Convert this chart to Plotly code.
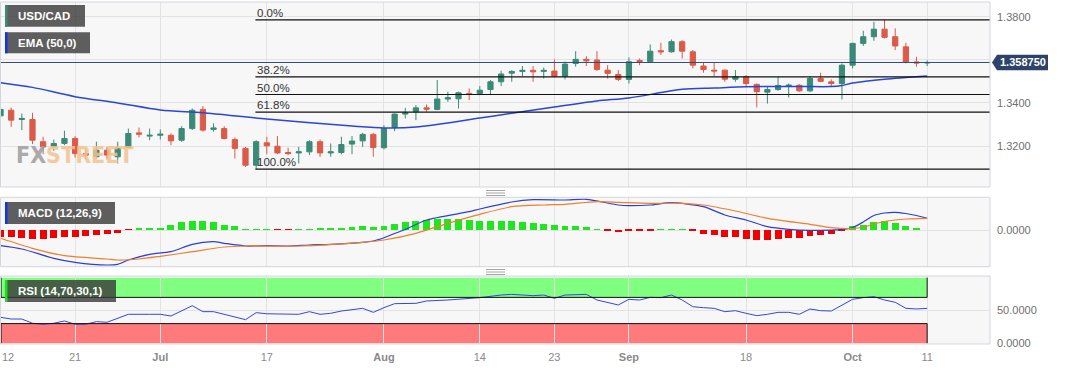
import pandas as pd
import plotly.graph_objects as go
from plotly.subplots import make_subplots

# ---------------- data ----------------
dates = [d.strftime("%Y-%m-%d") for d in pd.bdate_range("2023-06-12", "2023-10-11")]

open_ = [1.3340, 1.3366, 1.3323, 1.3323, 1.3220, 1.3199, 1.3212, 1.3235, 1.3165, 1.3150,
         1.3181, 1.3150, 1.3193, 1.3261, 1.3246, 1.3250, 1.3250, 1.3227, 1.3281, 1.3370,
         1.3277, 1.3281, 1.3230, 1.3189, 1.3111, 1.3215, 1.3199, 1.3170, 1.3168, 1.3173,
         1.3220, 1.3168, 1.3170, 1.3209, 1.3224, 1.3254, 1.3192, 1.3286, 1.3348, 1.3359,
         1.3377, 1.3370, 1.3418, 1.3419, 1.3444, 1.3444, 1.3462, 1.3498, 1.3538, 1.3546,
         1.3551, 1.3546, 1.3548, 1.3524, 1.3583, 1.3602, 1.3599, 1.3552, 1.3532, 1.3509,
         1.3597, 1.3591, 1.3642, 1.3637, 1.3684, 1.3637, 1.3571, 1.3552, 1.3552, 1.3510,
         1.3521, 1.3486, 1.3450, 1.3462, 1.3478, 1.3482, 1.3456, 1.3513, 1.3498, 1.3490,
         1.3575, 1.3676, 1.3707, 1.3742, 1.3707, 1.3660, 1.3590, 1.3585]
high = [1.3379, 1.3379, 1.3351, 1.3354, 1.3243, 1.3230, 1.3271, 1.3246, 1.3184, 1.3220,
        1.3196, 1.3220, 1.3281, 1.3286, 1.3281, 1.3277, 1.3258, 1.3292, 1.3374, 1.3385,
        1.3305, 1.3292, 1.3240, 1.3196, 1.3227, 1.3243, 1.3246, 1.3192, 1.3196, 1.3227,
        1.3230, 1.3212, 1.3243, 1.3246, 1.3261, 1.3261, 1.3297, 1.3351, 1.3377, 1.3390,
        1.3393, 1.3506, 1.3452, 1.3452, 1.3467, 1.3478, 1.3506, 1.3549, 1.3552, 1.3571,
        1.3571, 1.3564, 1.3602, 1.3591, 1.3640, 1.3617, 1.3640, 1.3575, 1.3552, 1.3611,
        1.3606, 1.3671, 1.3679, 1.3694, 1.3691, 1.3645, 1.3586, 1.3586, 1.3555, 1.3552,
        1.3529, 1.3490, 1.3478, 1.3521, 1.3490, 1.3487, 1.3524, 1.3540, 1.3509, 1.3583,
        1.3679, 1.3735, 1.3776, 1.3785, 1.3746, 1.3679, 1.3614, 1.3597]
low = [1.3328, 1.3289, 1.3274, 1.3209, 1.3162, 1.3178, 1.3204, 1.3147, 1.3138, 1.3142,
       1.3138, 1.3119, 1.3189, 1.3240, 1.3227, 1.3230, 1.3204, 1.3220, 1.3274, 1.3266,
       1.3266, 1.3230, 1.3142, 1.3103, 1.3093, 1.3162, 1.3162, 1.3158, 1.3119, 1.3158,
       1.3150, 1.3150, 1.3162, 1.3162, 1.3196, 1.3150, 1.3184, 1.3269, 1.3328, 1.3320,
       1.3359, 1.3366, 1.3405, 1.3374, 1.3413, 1.3436, 1.3441, 1.3478, 1.3498, 1.3524,
       1.3498, 1.3513, 1.3521, 1.3509, 1.3568, 1.3571, 1.3549, 1.3513, 1.3501, 1.3490,
       1.3575, 1.3586, 1.3622, 1.3633, 1.3606, 1.3560, 1.3540, 1.3524, 1.3498, 1.3498,
       1.3478, 1.3379, 1.3397, 1.3456, 1.3425, 1.3452, 1.3450, 1.3496, 1.3478, 1.3416,
       1.3560, 1.3664, 1.3688, 1.3699, 1.3645, 1.3583, 1.3568, 1.3571]
close = [1.3370, 1.3320, 1.3328, 1.3227, 1.3196, 1.3212, 1.3235, 1.3165, 1.3158, 1.3181,
         1.3158, 1.3189, 1.3258, 1.3255, 1.3250, 1.3255, 1.3224, 1.3281, 1.3366, 1.3274,
         1.3284, 1.3235, 1.3189, 1.3111, 1.3220, 1.3201, 1.3168, 1.3165, 1.3173, 1.3220,
         1.3168, 1.3173, 1.3207, 1.3223, 1.3254, 1.3193, 1.3281, 1.3348, 1.3354, 1.3377,
         1.3371, 1.3418, 1.3424, 1.3447, 1.3439, 1.3459, 1.3498, 1.3534, 1.3546, 1.3551,
         1.3544, 1.3551, 1.3524, 1.3580, 1.3602, 1.3595, 1.3555, 1.3537, 1.3509, 1.3591,
         1.3591, 1.3640, 1.3637, 1.3684, 1.3640, 1.3575, 1.3555, 1.3548, 1.3510, 1.3521,
         1.3490, 1.3452, 1.3462, 1.3481, 1.3482, 1.3456, 1.3513, 1.3500, 1.3490, 1.3575,
         1.3676, 1.3707, 1.3742, 1.3704, 1.3664, 1.3588, 1.3585, 1.35875]

ema_idx = [0, 3, 7, 11, 15, 19, 25, 33, 36, 39, 45, 48, 52, 56, 59, 64, 67, 70, 75, 78, 79, 80, 83, 87]
ema_val = [1.3494, 1.3472, 1.3429, 1.3400, 1.3367, 1.3354, 1.3325, 1.3293, 1.3284, 1.3288,
           1.3330, 1.3352, 1.3381, 1.3409, 1.3423, 1.3463, 1.3469, 1.3475, 1.3476, 1.3476,
           1.3481, 1.3492, 1.3510, 1.3525]

macd_idx = [0, 2, 5, 7, 10, 11, 12, 14, 16, 18, 20, 21, 23, 25, 27, 29, 31, 34, 35, 36, 37, 38,
            40, 44, 45, 48, 50, 53, 55, 58, 59, 61, 63, 66, 68, 70, 72, 74, 76, 78, 79, 80, 81,
            82, 83, 84, 85, 86, 87]
macd_val = [-0.00157, -0.00190, -0.00283, -0.00323, -0.00350, -0.00343, -0.00300, -0.00243,
            -0.00217, -0.00143, -0.00117, -0.00133, -0.00160, -0.00157, -0.00160, -0.00150,
            -0.00143, -0.00123, -0.00110, -0.00077, -0.00035, 0.00005, 0.00100, 0.00183,
            0.00210, 0.00280, 0.00303, 0.00300, 0.00307, 0.00250, 0.00243, 0.00250, 0.00273,
            0.00233, 0.00150, 0.00100, 0.00033, 0.00007, -0.00003, 0.00000, 0.00003, 0.00025,
            0.00080, 0.00145, 0.00170, 0.00177, 0.00165, 0.00145, 0.00117]

signal_idx = [0, 3, 6, 10, 11, 13, 15, 18, 21, 23, 28, 34, 36, 39, 42, 45, 48, 51, 53, 56, 58,
              61, 64, 66, 69, 72, 76, 78, 80, 81, 82, 83, 84, 85, 87]
signal_val = [-0.00083, -0.00183, -0.00257, -0.00290, -0.00300, -0.00290, -0.00263, -0.00217,
              -0.00170, -0.00160, -0.00160, -0.00123, -0.00100, -0.00033, 0.00067, 0.00157,
              0.00233, 0.00250, 0.00257, 0.00283, 0.00277, 0.00267, 0.00267, 0.00250, 0.00190,
              0.00117, 0.00057, 0.00023, 0.00015, 0.00030, 0.00060, 0.00085, 0.00100, 0.00110,
              0.00117]

hist_val = [-0.00074, -0.00074, -0.00080, -0.00090, -0.00090, -0.00083, -0.00077, -0.00074, -0.00064, -0.00053,
            -0.00043, -0.00030, -0.00003, 0.00008, 0.00012, 0.00020, 0.00045, 0.00076, 0.00083, 0.00083,
            0.00074, 0.00050, 0.00033, 0.00003, 0.00005, 0.00005, -0.00002, -0.00002, 0.00001, 0.00006,
            0.00008, 0.00012, 0.00016, 0.00026, 0.00033, 0.00029, 0.00040, 0.00058, 0.00073, 0.00087,
            0.00097, 0.00106, 0.00106, 0.00106, 0.00100, 0.00090, 0.00090, 0.00090, 0.00083, 0.00074,
            0.00067, 0.00057, 0.00043, 0.00033, 0.00033, 0.00027, 0.00007, -0.00007, -0.00027, -0.00017,
            -0.00015, -0.00005, 0.00001, 0.00003, 0.00003, -0.00007, -0.00040, -0.00057, -0.00073, -0.00077,
            -0.00090, -0.00100, -0.00100, -0.00094, -0.00083, -0.00083, -0.00060, -0.00050, -0.00043, -0.00017,
            0.00033, 0.00050, 0.00077, 0.00083, 0.00067, 0.00033, 0.00010, 0.00000]

rsi_idx = [0, 1, 2, 3, 4, 5, 6, 7, 8, 9, 10, 12, 14, 15, 16, 18, 19, 20, 23, 24, 25, 27, 28, 29,
           30, 31, 32, 34, 35, 36, 37, 39, 40, 42, 44, 45, 47, 48, 50, 51, 52, 53, 55, 56, 58,
           59, 60, 61, 62, 63, 64, 65, 66, 67, 68, 69, 70, 71, 72, 73, 74, 75, 76, 77, 78, 79,
           80, 81, 82, 83, 84, 85, 86, 87]
rsi_val = [39.6, 37, 37, 30.5, 29, 30.5, 34, 29, 29, 33, 32, 44.2, 44.2, 44.2, 41.6, 57.3, 48.2,
           48.2, 36, 46.7, 45, 44, 44.2, 48.2, 44.2, 45.7, 49.2, 53.3, 47.2, 54.3, 60.4, 60.9,
           64.5, 66, 68.6, 69.6, 73.6, 74.6, 72.6, 73.6, 68.6, 73.6, 74.6, 66, 58.4, 67, 66, 70,
           69.6, 73.6, 66, 55.8, 54.3, 53.3, 48.2, 49.7, 45.7, 42.1, 44.2, 47.2, 47.2, 44.2, 52.3,
           49.7, 49.2, 58.4, 67, 69.6, 71.1, 66, 62.5, 53.3, 52.3, 53.3]

tick_dates = ["2023-06-21", "2023-07-03", "2023-07-17", "2023-08-01", "2023-08-14",
              "2023-08-23", "2023-09-01", "2023-09-18", "2023-10-02", "2023-10-11"]
tick_text = ["21", "Jul", "17", "Aug", "14", "23", "Sep", "18", "Oct", "11"]
month_labels = {"Jul", "Aug", "Sep", "Oct"}

fib_levels = [0.0, 0.382, 0.5, 0.618, 1.0]
fib_labels = ["0.0%", "38.2%", "50.0%", "61.8%", "100.0%"]

price_ticks = [1.32, 1.34, 1.36, 1.38]
price_ticktext = ["1.3200", "1.3400", "", "1.3800"]

# ---------------- layout helpers ----------------
W, H = 1067, 370
ML, MR, MT, MB = 0, 77, 2, 26
PW, PH = W - ML - MR, H - MT - MB
def px(x):
    return (x - ML) / PW
def py(y):
    return (H - MB - y) / PH

XR = [-0.05, 92.9]
FONT = "Liberation Sans, Arial, sans-serif"
GRID = "#e3e3e3"
GREEN = "#3b8a77"
RED = "#da5b49"

fig = make_subplots(rows=3, cols=1, shared_xaxes=True, vertical_spacing=0.02)

fig.add_trace(go.Candlestick(
    x=dates, open=open_, high=high, low=low, close=close,
    increasing=dict(fillcolor=GREEN, line=dict(color=GREEN, width=1)),
    decreasing=dict(fillcolor=RED, line=dict(color=RED, width=1)),
    whiskerwidth=0, name="USD/CAD"), row=1, col=1)

fig.add_trace(go.Scatter(
    x=[dates[i] for i in ema_idx], y=ema_val, mode="lines",
    line=dict(color="#2b45d8", width=1.5, shape="spline", smoothing=0.8)), row=1, col=1)

fig.add_trace(go.Bar(
    x=dates, y=hist_val, width=0.65,
    marker=dict(color=["#1fe61f" if v >= 0 else "#f20000" for v in hist_val], line=dict(width=0))),
    row=2, col=1)
fig.add_trace(go.Scatter(
    x=[dates[i] for i in macd_idx], y=macd_val, mode="lines",
    line=dict(color="#2a3ed6", width=1.2, shape="spline", smoothing=0.7)), row=2, col=1)
fig.add_trace(go.Scatter(
    x=[dates[i] for i in signal_idx], y=signal_val, mode="lines",
    line=dict(color="#f07f2a", width=1.2, shape="spline", smoothing=0.7)), row=2, col=1)

fig.add_trace(go.Scatter(
    x=[dates[i] for i in rsi_idx], y=rsi_val, mode="lines",
    line=dict(color="#3447d8", width=1)), row=3, col=1)

common_x = dict(type="category", categoryorder="array", categoryarray=dates, range=XR,
                tickvals=tick_dates, showgrid=True, gridcolor=GRID, gridwidth=1,
                zeroline=False, showline=False, ticks="", rangeslider=dict(visible=False))
ticktext = ["<b>%s</b>" % t if t in month_labels else t for t in tick_text]
fig.update_layout(
    xaxis=dict(common_x, showticklabels=False),
    xaxis2=dict(common_x, showticklabels=False),
    xaxis3=dict(common_x, showticklabels=True, ticktext=ticktext,
                tickfont=dict(size=11, color="#8a8a8a", family=FONT), ticklabelstandoff=5),
)

common_y = dict(side="right", showline=False, zeroline=False, ticks="", gridcolor=GRID,
                tickfont=dict(size=11, color="#6f6f6f", family=FONT), ticklabelstandoff=6)
fig.update_layout(
    yaxis=dict(common_y, domain=[py(187), 1], range=[1.3010, 1.3868],
               tickvals=price_ticks, ticktext=price_ticktext),
    yaxis2=dict(common_y, domain=[py(266.7), py(197.3)], range=[-0.00367, 0.00327],
                tickvals=[0], ticktext=["0.0000"]),
    yaxis3=dict(common_y, domain=[0, py(276)], range=[-1.1, 102.6],
                tickvals=[0, 50], ticktext=["0.0000", "50.0000"]),
)

shapes = []
annotations = []

# RSI bands
last_i = len(dates) - 1
shapes.append(dict(type="rect", xref="x3", yref="y3", x0=XR[0], x1=last_i, y0=70, y1=100,
                   fillcolor="#80ff80", line=dict(width=0), layer="below"))
shapes.append(dict(type="rect", xref="x3", yref="y3", x0=XR[0], x1=last_i, y0=0, y1=30,
                   fillcolor="#ff7b7b", line=dict(width=0), layer="below"))
for (a, b) in [(70, 100), (0, 30)]:
    for xx in (XR[0] + 0.1, last_i):
        shapes.append(dict(type="line", xref="x3", yref="y3", x0=xx, x1=xx, y0=a, y1=b,
                           line=dict(color="#111", width=1)))
for lv in (70, 30):
    shapes.append(dict(type="line", xref="x3", yref="y3", x0=XR[0], x1=last_i, y0=lv, y1=lv,
                       line=dict(color="#111", width=1)))

# Fibonacci retracement
hi = max(high)
lo = min(low)
lo_i = low.index(lo)
for lvl, lab in zip(fib_levels, fib_labels):
    yv = hi - lvl * (hi - lo)
    shapes.append(dict(type="line", xref="x", yref="y", x0=lo_i - 0.07, x1=XR[1], y0=yv, y1=yv,
                       line=dict(color="#111", width=1.2)))
    annotations.append(dict(xref="x", yref="y", x=lo_i - 0.07, y=yv, text=lab, showarrow=False,
                            xanchor="left", yanchor="bottom", yshift=-1,
                            font=dict(size=11.5, color="#333", family=FONT)))

# current price line + label
last = close[-1]
shapes.append(dict(type="line", xref="x domain", yref="y", x0=0, x1=1, y0=last, y1=last,
                   line=dict(color="#33497a", width=1)))
hh = 7.8 * (1.3868 - 1.3010) / 185
shapes.append(dict(type="path", xref="paper", yref="y",
                   path="M %f,%f L %f,%f L %f,%f L %f,%f L %f,%f Z" % (
                       px(1048), last - hh, px(997), last - hh, px(992), last,
                       px(997), last + hh, px(1048), last + hh),
                   fillcolor="#2d4369", line=dict(width=0)))
annotations.append(dict(xref="paper", yref="y", x=px(1022.5), y=last, text="<b>%.6f</b>" % last,
                        showarrow=False, xanchor="center", yanchor="middle",
                        font=dict(size=11, color="white", family=FONT)))

# pane borders
for (y0, y1) in [(187, 2), (266.7, 197.3), (344, 276)]:
    shapes.append(dict(type="rect", xref="paper", yref="paper", x0=px(0.5), x1=px(990),
                       y0=py(y0), y1=py(y1), line=dict(color="#d3d6dc", width=1),
                       fillcolor="rgba(0,0,0,0)"))

# pane resize handles
for ybase in (190.5, 269.5):
    for k in range(3):
        yy = ybase + 2.5 * k
        shapes.append(dict(type="line", xref="paper", yref="paper", x0=px(486), x1=px(505),
                           y0=py(yy), y1=py(yy), line=dict(color="#8f8f8f", width=0.8)))

# indicator label boxes
boxes = [("USD/CAD", 5, 85, 5, 26.7, "#3a8a76"),
         ("EMA (50,0)", 5, 90, 32.3, 53.3, "#1232e8"),
         ("MACD (12,26,9)", 5, 115, 202, 224, "#1232e8"),
         ("RSI (14,70,30,1)", 5, 116, 280, 302, "#17e017")]
for text, x0, x1, y0, y1, acc in boxes:
    shapes.append(dict(type="rect", xref="paper", yref="paper", x0=px(x0), x1=px(x1),
                       y0=py(y1), y1=py(y0), fillcolor="rgba(55,55,55,0.8)", line=dict(width=0)))
    shapes.append(dict(type="rect", xref="paper", yref="paper", x0=px(x0), x1=px(x0 + 2.5),
                       y0=py(y1), y1=py(y0), fillcolor=acc, line=dict(width=0)))
    annotations.append(dict(xref="paper", yref="paper", x=px(x0 + 11), y=py((y0 + y1) / 2),
                            text="<b>%s</b>" % text, showarrow=False, xanchor="left",
                            yanchor="middle", font=dict(size=11.5, color="white", family=FONT)))

# watermark
annotations.append(dict(xref="paper", yref="paper", x=px(14), y=py(155),
                        text="<span style='color:#9d9d9d'>FX</span><span style='color:#f3c38f'>STREET</span>",
                        showarrow=False, xanchor="left", yanchor="middle", opacity=0.85,
                        font=dict(size=23, family="DejaVu Sans Condensed, DejaVu Sans, sans-serif",
                                  weight="bold")))

# first date label (clamped at left edge)
annotations.append(dict(xref="paper", yref="paper", x=px(0), y=py(357), text="12",
                        showarrow=False, xanchor="left", yanchor="middle",
                        font=dict(size=11, color="#8a8a8a", family=FONT)))

fig.update_layout(
    width=W, height=H, margin=dict(l=ML, r=MR, t=MT, b=MB),
    paper_bgcolor="white", plot_bgcolor="#f7f7f7", showlegend=False,
    shapes=shapes, annotations=annotations, bargap=0,
    font=dict(family=FONT),
)

fig.write_html("out.html", config={"displayModeBar": False},
               post_script="document.body.style.margin='0';document.body.style.overflow='hidden';")
